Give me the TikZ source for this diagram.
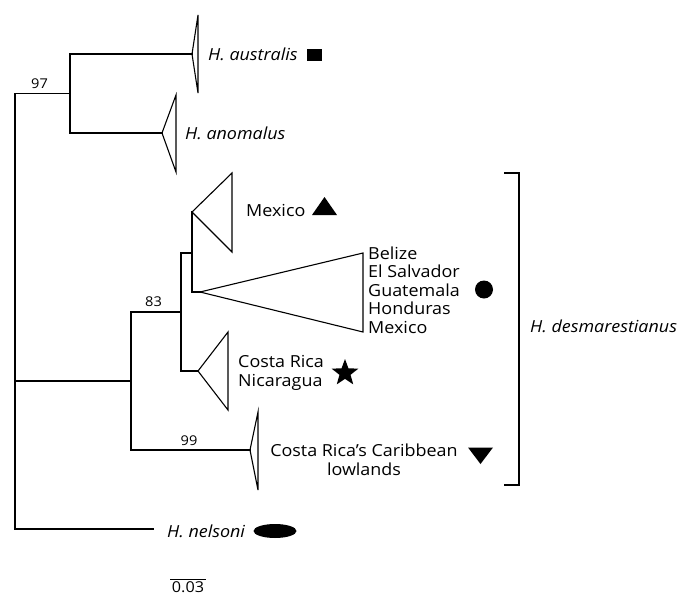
\documentclass[tikz,border=0pt]{standalone}
\usepackage{fontspec}
\setmainfont{Open Sans}[FakeStretch=1.08]
\usetikzlibrary{shapes.geometric}
\begin{document}
\begin{tikzpicture}[x=1pt,y=-1pt,
  br/.style={line width=1.1pt, line cap=rect},
  tri/.style={line width=1.1pt, line join=miter},
  lab/.style={font=\fontsize{16.6}{18.5}\selectfont, inner sep=0pt, anchor=west},
  ita/.style={font=\fontsize{16.6}{18.5}\selectfont\itshape, inner sep=0pt, anchor=west},
  num/.style={font=\fontsize{13.5}{15}\selectfont, inner sep=0pt},
  sym/.style={fill=black, draw=none, inner sep=0pt}]
\useasboundingbox (0,0) rectangle (681,595);
\fill[white] (0,0) rectangle (681,595);
% tree nodes
\coordinate (root) at (15,381);
\coordinate (n97) at (70,93.5);
\coordinate (n131) at (131,381);
\coordinate (n181) at (181,312);
\coordinate (n192) at (192,253);
\coordinate (nelE) at (153,529);
% clade apices and bases
\coordinate (ausA) at (192,54);  \coordinate (ausT) at (198,15);  \coordinate (ausB) at (198,93);
\coordinate (anoA) at (162,133); \coordinate (anoT) at (176,95);  \coordinate (anoB) at (176,172);
\coordinate (mexA) at (192,212); \coordinate (mexT) at (232,173); \coordinate (mexB) at (232,252);
\coordinate (bigA) at (200,292); \coordinate (bigT) at (363,253); \coordinate (bigB) at (363,332);
\coordinate (crA) at (198,371);  \coordinate (crT) at (228,332);  \coordinate (crB) at (228,410);
\coordinate (carA) at (250,450); \coordinate (carT) at (258,412); \coordinate (carB) at (258,490);
% branches
\draw[br] (ausA) -| (n97) |- (anoA);
\draw[br] (n97) -| (root) |- (nelE);
\draw[br] (root) -- (n131);
\draw[br] (n181) -| (n131) |- (carA);
\draw[br] (n192) -| (n181) |- (crA);
\draw[br] (mexA) -| (n192) |- (bigA);
% collapsed clades
\foreach \c in {aus,ano,mex,big,cr,car}
  \draw[tri] (\c A) -- (\c T) -- (\c B) -- cycle;
% support values
\node[num] (s97) at (39.5,84) {97};
\node[num] (s83) at (153.5,302) {83};
\node[num] (s99) at (189,441) {99};
% labels
\node[ita] (laus) at (208,54) {H. australis};
\node[sym, minimum width=15pt, minimum height=12pt] (qaus) at (314,54.5) {};
\node[ita] (lano) at (185,133) {H. anomalus};
\node[lab] (lmex) at (246,210) {Mexico};
\fill (312,215) coordinate (tm1) -- (337,215) coordinate (tm2) -- (324.5,197) coordinate (tm3) -- cycle;
\node[lab, align=left] (lbig) at (368,290) {Belize\\El Salvador\\Guatemala\\Honduras\\Mexico};
\node[sym, circle, minimum size=18pt] (cbig) at (484,289.5) {};
\node[lab, align=left] (lcr) at (238,373) {Costa Rica\\Nicaragua};
\node[sym, star, star points=5, star point ratio=2.4, minimum size=28pt] (scr) at (345,373) {};
\node[font=\fontsize{16.6}{18.5}\selectfont, inner sep=0pt, align=center] (lcar) at (364,460) {Costa Rica’s Caribbean\\lowlands};
\fill (468,447.5) coordinate (td1) -- (493,447.5) coordinate (td2) -- (480.5,464) coordinate (td3) -- cycle;
\node[ita] (lnel) at (167,531) {H. nelsoni};
\node[sym, ellipse, minimum width=43pt, minimum height=14pt] (enel) at (275,531) {};
% bracket
\coordinate (bk1) at (504,173); \coordinate (bk2) at (519,173);
\coordinate (bk3) at (519,485); \coordinate (bk4) at (504,485);
\draw[br, line cap=butt] (bk1) -- (bk2) -- (bk3) -- (bk4);
\node[ita] (ldes) at (530,326) {H. desmarestianus};
% scale bar
\coordinate (sc1) at (170,579); \coordinate (sc2) at (206,579);
\draw[line width=1pt] (sc1) -- (sc2);
\node[font=\fontsize{15}{17}\selectfont, inner sep=0pt] (lsc) at (188,587.5) {0.03};
\end{tikzpicture}
\end{document}
